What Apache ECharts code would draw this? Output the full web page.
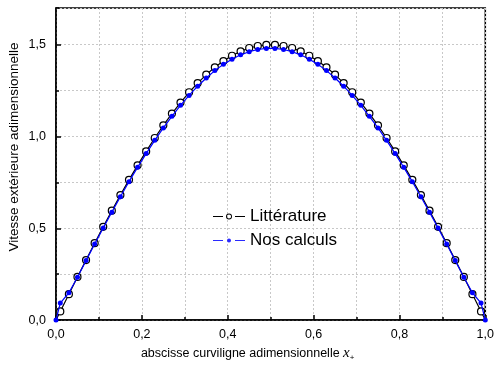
<!DOCTYPE html>
<html>
<head>
<meta charset="utf-8">
<script src="https://cdn.jsdelivr.net/npm/echarts@6/dist/echarts.min.js"></script>
<style>
  html, body { margin: 0; padding: 0; background: #fff; }
  #chart { width: 497px; height: 367px; }
</style>
</head>
<body>
<div id="chart"></div>
<script>
// Abscissa positions (curvilinear coordinate x+)
const xLit = [0, 0.01, 0.03, 0.05, 0.07, 0.09, 0.11, 0.13, 0.15, 0.17, 0.19, 0.21, 0.23, 0.25, 0.27, 0.29,
  0.31, 0.33, 0.35, 0.37, 0.39, 0.41, 0.43, 0.45, 0.47, 0.49, 0.51, 0.53, 0.55, 0.57, 0.59,
  0.61, 0.63, 0.65, 0.67, 0.69, 0.71, 0.73, 0.75, 0.77, 0.79, 0.81, 0.83, 0.85, 0.87, 0.89,
  0.91, 0.93, 0.95, 0.97, 0.99, 1];
// Reference values (Littérature)
const yLit = [0, 0.047, 0.141, 0.235, 0.327, 0.419, 0.508, 0.596, 0.681, 0.764, 0.843, 0.919, 0.992, 1.061, 1.125, 1.185,
  1.241, 1.291, 1.337, 1.377, 1.411, 1.440, 1.464, 1.482, 1.493, 1.499, 1.499, 1.493, 1.482, 1.464, 1.440,
  1.411, 1.377, 1.337, 1.291, 1.241, 1.185, 1.125, 1.061, 0.992, 0.919, 0.843, 0.764, 0.681, 0.596, 0.508,
  0.419, 0.327, 0.235, 0.141, 0.047, 0];
// Computed values (Nos calculs), same abscissae
const yCalc = [0, 0.093, 0.149, 0.233, 0.324, 0.414, 0.502, 0.588, 0.672, 0.754, 0.832, 0.907, 0.979, 1.047, 1.110, 1.170,
  1.224, 1.274, 1.319, 1.359, 1.393, 1.421, 1.445, 1.462, 1.474, 1.480, 1.480, 1.474, 1.462, 1.445, 1.421,
  1.393, 1.359, 1.319, 1.274, 1.224, 1.170, 1.110, 1.047, 0.979, 0.907, 0.832, 0.754, 0.672, 0.588, 0.502,
  0.414, 0.324, 0.233, 0.149, 0.093, 0];

const seriesNames = ['Littérature', 'Nos calculs'];
const yTitle = 'Vitesse extérieure adimensionnelle';
const FONT = '"Liberation Sans", Arial, sans-serif';

const comma = v => v.toFixed(1).replace('.', ',');

const litData = xLit.map((x, i) => {
  const p = { value: [x, yLit[i]] };
  if (x === 0 || x === 1) p.symbolSize = 0;
  return p;
});
const calcData = xLit.map((x, i) => [x, yCalc[i]]);

// Legend glyphs: dash, gap, symbol, gap, dash
const iconLit = 'path://M0,2.5L10,2.5L10,3.5L0,3.5Z M22,2.5L32,2.5L32,3.5L22,3.5Z ' +
  'M13,3A3,3 0 1,0 19,3A3,3 0 1,0 13,3Z M13.9,3A2.1,2.1 0 1,1 18.1,3A2.1,2.1 0 1,1 13.9,3Z';
const iconCalc = 'path://M0,1.4L10,1.4L10,2.6L0,2.6Z M22,1.4L32,1.4L32,2.6L22,2.6Z ' +
  'M14,2A2,2 0 1,0 18,2A2,2 0 1,0 14,2Z';

const chart = echarts.init(document.getElementById('chart'), null, { renderer: 'canvas' });

const gridLine = { show: true, lineStyle: { color: '#c8c8c8', type: [2, 2], width: 1 } };
const axisBase = { lineStyle: { color: '#000', width: 1.5 } };

const legendText = { fontFamily: FONT, fontSize: 17, color: '#000' };

chart.setOption({
  animation: false,
  backgroundColor: '#fff',
  grid: { left: 56, right: 9, top: 8, bottom: 44, show: true, borderColor: '#000', borderWidth: 1.5, backgroundColor: 'transparent' },
  legend: [
    {
      left: 213, top: 208, itemWidth: 32, itemHeight: 6, itemGap: 0, padding: 0,
      textStyle: legendText,
      data: [{ name: seriesNames[0], icon: iconLit, itemStyle: { color: '#000', borderWidth: 0 } }]
    },
    {
      left: 213, top: 232, itemWidth: 32, itemHeight: 4, itemGap: 0, padding: 0,
      textStyle: legendText,
      data: [{ name: seriesNames[1], icon: iconCalc, itemStyle: { color: '#2a2aff', borderWidth: 0 } }]
    }
  ],
  graphic: [{
    type: 'text', x: 14, y: 147, rotation: Math.PI / 2,
    style: { text: yTitle, font: '13.5px ' + FONT, fill: '#000', align: 'center', verticalAlign: 'middle' }
  }],
  xAxis: {
    type: 'value', min: 0, max: 1, interval: 0.2,
    name: 'abscisse curviligne adimensionnelle {i|x}{s|+}',
    nameLocation: 'middle', nameGap: 19,
    nameTextStyle: {
      fontFamily: FONT, fontSize: 12.5, color: '#000', padding: [0, 46, 0, 0],
      rich: {
        i: { fontFamily: '"Liberation Serif", "Times New Roman", serif', fontStyle: 'italic', fontSize: 15, color: '#000' },
        s: { fontFamily: FONT, fontSize: 8, color: '#000', verticalAlign: 'bottom', padding: [9, 0, 0, 0] }
      }
    },
    axisLine: { show: true, ...axisBase },
    axisTick: { show: true, inside: true, length: 5, ...axisBase },
    minorTick: { show: true, splitNumber: 2, length: 3, ...axisBase },
    axisLabel: { fontFamily: FONT, fontSize: 12.5, color: '#000', margin: 8, formatter: comma },
    splitLine: gridLine,
    minorSplitLine: gridLine
  },
  yAxis: [
    {
      // fine grid + short ticks every 0.25
      type: 'value', min: 0, max: 1.7, interval: 0.25, position: 'left',
      axisLine: { show: true, ...axisBase },
      axisTick: { show: true, inside: true, length: 3, ...axisBase },
      axisLabel: { show: false },
      splitLine: gridLine
    },
    {
      // labelled ticks every 0.5
      type: 'value', min: 0, max: 1.7, interval: 0.5, position: 'left',
      axisLine: { show: false },
      axisTick: { show: true, inside: true, length: 5, ...axisBase },
      axisLabel: { fontFamily: FONT, fontSize: 12.5, color: '#000', margin: 10, formatter: comma, showMaxLabel: false },
      splitLine: { show: false }
    }
  ],
  series: [
    {
      name: seriesNames[0], type: 'line', data: litData, yAxisIndex: 0,
      symbol: 'circle', symbolSize: 7,
      itemStyle: { color: '#fff', borderColor: '#000', borderWidth: 1.2 },
      lineStyle: { color: '#000', width: 1.2 },
      z: 2
    },
    {
      name: seriesNames[1], type: 'line', data: calcData, yAxisIndex: 0,
      symbol: 'circle', symbolSize: 5,
      itemStyle: { color: '#0000ff', borderColor: '#0000ff', borderWidth: 0 },
      lineStyle: { color: '#0000ff', width: 1.2 },
      z: 3
    }
  ]
});
</script>
</body>
</html>
